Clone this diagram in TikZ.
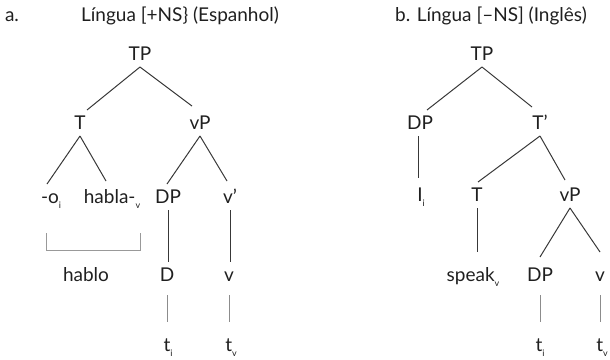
\documentclass[tikz,border=0pt]{standalone}
\usepackage{fontspec}
\setmainfont{Lato}
\usetikzlibrary{calc}
\newcommand\lsub[1]{\raisebox{-4.5pt}{\fontsize{9}{9}\selectfont #1}}
\tikzset{
  lab/.style={inner sep=0pt, outer sep=0pt, text height=13pt, text depth=0pt,
              minimum height=26pt, font=\fontsize{19}{21}\selectfont, text=black!88},
  ttl/.style={inner sep=0pt, font=\fontsize{19}{21}\selectfont, text=black!88, anchor=base},
  br/.style={draw=black!78, line width=1pt},
  tr/.style={draw=black!45, line width=0.8pt, shorten <=7pt, shorten >=10pt},
  brk/.style={draw=black!40, line width=1pt}
}
\begin{document}
\begin{tikzpicture}[x=1pt, y=-1pt]
\useasboundingbox (0,0) rectangle (610,359);

% headings
\node[ttl] (hA) at (12,21) {a.};
\node[ttl] (hAt) at (180,21) {Língua [+NS\} (Espanhol)};
\node[ttl] (hB) at (491,21) {b. Língua [–NS] (Inglês)};

% ---- tree a: Spanish ----
\node[lab] (TPa)  at (140,54)  {TP};
\node[lab] (Ta)   at (80,123)  {T};
\node[lab] (vPa)  at (200,123) {vP};
\node[lab] (oa)   at (51,197)  {-o\lsub{i}};
\node[lab] (hab)  at (112,197) {habla-\lsub{v}};
\node[lab] (DPa)  at (168,197) {DP};
\node[lab] (vba)  at (230,197) {v’};
\node[lab] (hablo) at (86,275) {hablo};
\node[lab] (Da)   at (167,275) {D};
\node[lab] (va)   at (229,275) {v};
\node[lab] (tia)  at (168,345) {t\lsub{i}};
\node[lab] (tva)  at (231,345) {t\lsub{v}};

\draw[br] (TPa.south) -- ([xshift=7pt]Ta.north);
\draw[br] (TPa.south) -- ([xshift=-8pt,yshift=4pt]vPa.north);
\draw[br] (Ta.south) -- ([xshift=-4pt]oa.north);
\draw[br] (Ta.south) -- ([xshift=-6pt,yshift=3pt]hab.north);
\draw[br] (vPa.south) -- ([xshift=-1pt]DPa.north);
\draw[br] (vPa.south) -- ([xshift=-3pt,yshift=3pt]vba.north);
\draw[br] (DPa.south) -- (DPa.south |- Da.north);
\draw[br] (vba.south) -- (vba.south |- va.north);
\draw[tr] (Da.south) -- (Da.south |- tia.north);
\draw[tr] (va.south) -- (va.south |- tva.north);

% bracket joining -o and habla- into "hablo"
\coordinate (bl) at ([xshift=-5pt,yshift=-23pt]oa.south);
\coordinate (br) at ([xshift=28pt,yshift=-23pt]hab.south);
\draw[brk] (bl) -- ([yshift=-17pt]bl) -- ([yshift=-17pt]br) -- (br);

% ---- tree b: English ----
\node[lab] (TPb)  at (482,54)  {TP};
\node[lab] (DPb)  at (420,123) {DP};
\node[lab] (Tbb)  at (540,123) {T’};
\node[lab] (Ib)   at (421,195) {I\lsub{i}};
\node[lab] (Tb)   at (477,195) {T};
\node[lab] (vPb)  at (570,195) {vP};
\node[lab] (spk)  at (473,275) {speak\lsub{v}};
\node[lab] (DPc)  at (540,275) {DP};
\node[lab] (vb)   at (600,275) {v};
\node[lab] (tib)  at (540,345) {t\lsub{i}};
\node[lab] (tvb)  at (602,345) {t\lsub{v}};

\draw[br] (TPb.south) -- ([xshift=7pt]DPb.north);
\draw[br] (TPb.south) -- ([xshift=-8pt,yshift=3pt]Tbb.north);
\draw[br, shorten >=4pt] (DPb.south -| Ib.north) ++(-3pt,0) -- ([xshift=-3pt]Ib.north);
\draw[br] (Tbb.south) -- ([xshift=1pt]Tb.north);
\draw[br] (Tbb.south) -- ([xshift=-5pt,yshift=2pt]vPb.north);
\draw[br, shorten >=10pt] (Tb.south) -- (Tb.south |- spk.north);
\draw[br] (vPb.south) -- ([yshift=5pt]DPc.north);
\draw[br] (vPb.south) -- ([yshift=10pt]vb.north);
\draw[tr] (DPc.south) -- (DPc.south |- tib.north);
\draw[tr] (vb.south) -- (vb.south |- tvb.north);
\end{tikzpicture}
\end{document}
